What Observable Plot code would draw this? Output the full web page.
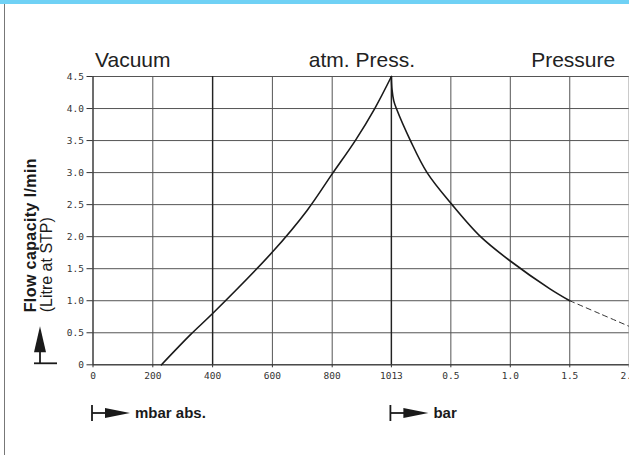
<!DOCTYPE html>
<html><head><meta charset="utf-8">
<script src="https://cdn.jsdelivr.net/npm/d3@7"></script>
<script src="https://cdn.jsdelivr.net/npm/@observablehq/plot@0.6"></script>
<style>
body{margin:0;background:#fff}
#wrap{position:relative;width:629px;height:455px;overflow:hidden;background:#fff}
#topbar{position:absolute;left:0;top:0;width:629px;height:4px;background:#6fd1f5}
#leftline{position:absolute;left:4px;top:4px;width:1px;height:451px;background:#777}
</style>
</head><body>
<div id="wrap"><div id="chart"></div><div id="topbar"></div><div id="leftline"></div></div>
<script>
// Vacuum side: absolute pressure in mbar vs flow (l/min)
const vacuumMbar = [229, 326, 400, 600, 716, 800, 883, 953, 1013];
const vacuumFlow = [0, 0.47, 0.8, 1.76, 2.41, 2.98, 3.5, 4.0, 4.5];
// Pressure side: gauge pressure in bar vs flow (l/min)
const pressureBar = [0, 0.005, 0.02, 0.042, 0.16, 0.30, 0.51, 0.75, 1.0, 1.33, 1.5];
const pressureFlow = [4.5, 4.3, 4.12, 4.0, 3.5, 3.0, 2.5, 2.0, 1.62, 1.19, 1.0];
// Extrapolated (dashed) part
const extraBar = [1.5, 1.75, 2.0];
const extraFlow = [1.0, 0.8, 0.6];
// Axis ticks (x in absolute mbar; bar side = 1013 + bar*1000)
const xTicks = [0, 200, 400, 600, 800, 1013, 1513, 2013, 2513, 3013];
const xTickLabels = ["0", "200", "400", "600", "800", "1013", "0.5", "1.0", "1.5", "2.0"];
const yTicks = [0, 0.5, 1, 1.5, 2, 2.5, 3, 3.5, 4, 4.5];
const yTickLabels = ["0", "0.5", "1.0", "1.5", "2.0", "2.5", "3.0", "3.5", "4.0", "4.5"];
const regionLabels = ["Vacuum", "atm. Press.", "Pressure"];
const unitLabels = ["mbar abs.", "bar"];
const yTitle = "Flow capacity l/min";
const ySubTitle = "(Litre at STP)";

const ATM = 1013;
const vac = vacuumMbar.map((m, i) => ({x: m, y: vacuumFlow[i]}));
const prs = pressureBar.map((b, i) => ({x: ATM + b * 1000, y: pressureFlow[i]}));
const ext = extraBar.map((b, i) => ({x: ATM + b * 1000, y: extraFlow[i]}));
const xLab = new Map(xTicks.map((t, i) => [t, xTickLabels[i]]));
const yLab = new Map(yTicks.map((t, i) => [t, yTickLabels[i]]));

const tickFont = {fontFamily: "DejaVu Sans Mono", fontSize: 9.5, fill: "#333"};
const bigFont = {fontFamily: "Liberation Sans", fontSize: 21, fill: "#222", lineAnchor: "middle", dy: -16};
const chart = Plot.plot({
  width: 629, height: 455,
  marginTop: 76, marginBottom: 90.7, marginLeft: 92.5, marginRight: 0.3,
  style: {background: "transparent", fontFamily: "DejaVu Sans Mono", fontSize: "9.5px", color: "#333"},
  x: {type: "linear", domain: [0, 800, ATM, 3013], range: [92.5, 331.7, 390.9, 628.7], label: null},
  y: {domain: [0, 4.5], label: null},
  marks: [
    Plot.gridX(xTicks, {stroke: "#555", strokeOpacity: 1, strokeWidth: 1}),
    Plot.gridY(yTicks, {stroke: "#555", strokeOpacity: 1, strokeWidth: 1}),
    Plot.ruleX([400, ATM], {stroke: "#222", strokeWidth: 1.4}),
    Plot.ruleX([0], {stroke: "#333"}),
    Plot.ruleY([0], {stroke: "#333"}),
    Plot.axisX(xTicks, {tickSize: 3, tickPadding: 4, tickFormat: d => xLab.get(d), ...tickFont, label: null}),
    Plot.axisY(yTicks, {tickSize: 6, tickPadding: 3, tickFormat: d => yLab.get(d), ...tickFont, label: null}),
    Plot.line(vac, {x: "x", y: "y", stroke: "#1a1a1a", strokeWidth: 1.6, curve: "catmull-rom"}),
    Plot.line(prs, {x: "x", y: "y", stroke: "#1a1a1a", strokeWidth: 1.6, curve: "catmull-rom"}),
    Plot.line(ext, {x: "x", y: "y", stroke: "#333", strokeWidth: 1, strokeDasharray: "5,4", curve: "catmull-rom"}),
    Plot.text([regionLabels[0]], {frameAnchor: "top-left", textAnchor: "start", dx: 2, ...bigFont}),
    Plot.text([regionLabels[1]], {x: [ATM], frameAnchor: "top", textAnchor: "middle", dx: -29.5, ...bigFont}),
    Plot.text([regionLabels[2]], {frameAnchor: "top-right", textAnchor: "end", dx: -14, ...bigFont})
  ]
});
document.getElementById("chart").appendChild(chart);

// Decorations positioned through the chart's own scales
const sx = chart.scale("x"), sy = chart.scale("y");
const svg = d3.select(chart);
const y0 = sy.apply(0);
const yBottom = y0 + 48.7;
[[0, unitLabels[0]], [ATM, unitLabels[1]]].forEach(([v, label]) => {
  const x0 = sx.apply(v) - 0.5;
  const g = svg.append("g").attr("fill", "#1a1a1a").attr("stroke", "#1a1a1a");
  g.append("line").attr("x1", x0).attr("x2", x0).attr("y1", yBottom - 8).attr("y2", yBottom + 8).attr("stroke-width", 1.8);
  g.append("line").attr("x1", x0).attr("x2", x0 + 16).attr("y1", yBottom).attr("y2", yBottom).attr("stroke-width", 1.8);
  g.append("path").attr("stroke", "none").attr("d", `M${x0 + 13},${yBottom - 5} L${x0 + 38},${yBottom} L${x0 + 13},${yBottom + 5} Z`);
  g.append("text").attr("x", x0 + 43).attr("y", yBottom).attr("dy", "0.35em").attr("stroke", "none")
    .attr("text-anchor", "start")
    .attr("font-family", "Liberation Sans").attr("font-weight", "bold").attr("font-size", 15).text(label);
});
// Y axis title
const yt = y0 - 52;
svg.append("text").attr("transform", `translate(36,${yt}) rotate(-90)`).attr("text-anchor", "start")
  .attr("font-family", "Liberation Sans").attr("font-weight", "bold").attr("font-size", 16)
  .attr("letter-spacing", "0.4px").attr("fill", "#1a1a1a").text(yTitle);
svg.append("text").attr("transform", `translate(52,${yt}) rotate(-90)`).attr("text-anchor", "start")
  .attr("font-family", "Liberation Sans").attr("font-size", 16).attr("fill", "#1a1a1a").text(ySubTitle);
// Up arrow
const ax = 40;
const ga = svg.append("g").attr("fill", "#1a1a1a").attr("stroke", "#1a1a1a");
ga.append("path").attr("stroke", "none").attr("d", `M${ax},${y0 - 38} L${ax + 6},${y0 - 12} L${ax - 6},${y0 - 12} Z`);
ga.append("line").attr("x1", ax).attr("x2", ax).attr("y1", y0 - 14).attr("y2", y0 - 1).attr("stroke-width", 1.8);
ga.append("line").attr("x1", ax - 6).attr("x2", ax + 17).attr("y1", y0 - 1).attr("y2", y0 - 1).attr("stroke-width", 1.8);
</script>
</body></html>
